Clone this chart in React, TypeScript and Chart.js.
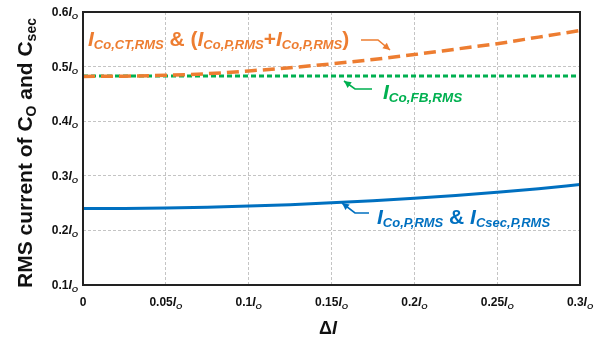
import React, { useEffect, useRef } from "react";
import { Chart, registerables } from "chart.js";

Chart.register(...registerables);

// ---- data ----
const deltaI = [0, 0.025, 0.05, 0.075, 0.1, 0.125, 0.15, 0.175, 0.2, 0.225, 0.25, 0.275, 0.3];
const iCoCtRms = [0.482, 0.4825, 0.484, 0.487, 0.492, 0.498, 0.505, 0.513, 0.522, 0.532, 0.542, 0.554, 0.566];
const iCoFbRms = [0.483, 0.483, 0.483, 0.483, 0.483, 0.483, 0.483, 0.483, 0.483, 0.483, 0.483, 0.483, 0.483];
const iCoPRms = [0.24, 0.2403, 0.2412, 0.2425, 0.2445, 0.247, 0.2505, 0.2545, 0.259, 0.264, 0.27, 0.2765, 0.284];
const xTickValues = [0, 0.05, 0.1, 0.15, 0.2, 0.25, 0.3];
const xTickNumbers = ["0", "0.05", "0.1", "0.15", "0.2", "0.25", "0.3"];
const yTickValues = [0.1, 0.2, 0.3, 0.4, 0.5, 0.6];
const yTickNumbers = ["0.1", "0.2", "0.3", "0.4", "0.5", "0.6"];

const ORANGE = "#ED7D31";
const GREEN = "#00B050";
const BLUE = "#0070C0";
const FAM = '"Liberation Sans", Arial, sans-serif';

type Seg = { t: string; f: string; dy?: number };

const B = (s: number) => `bold ${s}px ${FAM}`;
const BI = (s: number) => `italic bold ${s}px ${FAM}`;

function segWidth(ctx: CanvasRenderingContext2D, segs: Seg[]) {
  let w = 0;
  for (const s of segs) {
    ctx.font = s.f;
    w += ctx.measureText(s.t).width;
  }
  return w;
}

function drawRich(
  ctx: CanvasRenderingContext2D,
  x: number,
  y: number,
  segs: Seg[],
  align: "left" | "center" | "right",
  color: string
) {
  const w = segWidth(ctx, segs);
  let cx = align === "left" ? x : align === "center" ? x - w / 2 : x - w;
  ctx.fillStyle = color;
  ctx.textAlign = "left";
  ctx.textBaseline = "alphabetic";
  for (const s of segs) {
    ctx.font = s.f;
    ctx.fillText(s.t, cx, y + (s.dy || 0));
    cx += ctx.measureText(s.t).width;
  }
}

function arrow(ctx: CanvasRenderingContext2D, pts: number[][], color: string) {
  ctx.save();
  ctx.strokeStyle = color;
  ctx.fillStyle = color;
  ctx.lineWidth = 1.6;
  ctx.setLineDash([]);
  ctx.beginPath();
  ctx.moveTo(pts[0][0], pts[0][1]);
  for (let i = 1; i < pts.length; i++) ctx.lineTo(pts[i][0], pts[i][1]);
  ctx.stroke();
  const [x1, y1] = pts[pts.length - 2];
  const [x2, y2] = pts[pts.length - 1];
  const a = Math.atan2(y2 - y1, x2 - x1);
  const L = 7, W = 3.5;
  ctx.beginPath();
  ctx.moveTo(x2, y2);
  ctx.lineTo(x2 - L * Math.cos(a) + W * Math.sin(a), y2 - L * Math.sin(a) - W * Math.cos(a));
  ctx.lineTo(x2 - L * Math.cos(a) - W * Math.sin(a), y2 - L * Math.sin(a) + W * Math.cos(a));
  ctx.closePath();
  ctx.fill();
  ctx.restore();
}

const decorPlugin = {
  id: "decor",
  beforeDraw(chart: any) {
    const ctx = chart.ctx;
    ctx.save();
    ctx.fillStyle = "#fff";
    ctx.fillRect(0, 0, chart.width, chart.height);
    ctx.restore();
  },
  afterDraw(chart: any) {
    const ctx: CanvasRenderingContext2D = chart.ctx;
    const { left, right, top, bottom } = chart.chartArea;
    const xs = chart.scales.x;
    const ys = chart.scales.y;
    ctx.save();
    // frame
    ctx.strokeStyle = "#222";
    ctx.lineWidth = 2;
    ctx.setLineDash([]);
    ctx.strokeRect(left, top, right - left, bottom - top);

    // y tick labels
    yTickValues.forEach((v, i) => {
      const py = ys.getPixelForValue(v);
      drawRich(
        ctx,
        left - 5,
        py + 4,
        [
          { t: yTickNumbers[i], f: B(12) },
          { t: "I", f: BI(12) },
          { t: "O", f: BI(8), dy: 3 },
        ],
        "right",
        "#111"
      );
    });
    // x tick labels
    xTickValues.forEach((v, i) => {
      const px = xs.getPixelForValue(v);
      const segs: Seg[] =
        i === 0
          ? [{ t: xTickNumbers[i], f: B(12) }]
          : [
              { t: xTickNumbers[i], f: B(12) },
              { t: "I", f: BI(12) },
              { t: "O", f: BI(8), dy: 3 },
            ];
      drawRich(ctx, px, bottom + 21, segs, "center", "#111");
    });

    // x title
    drawRich(ctx, 328, 334, [{ t: "Δ", f: B(18) }, { t: "I", f: BI(18) }], "center", "#111");

    // y title (rotated)
    ctx.save();
    ctx.translate(32, 153);
    ctx.rotate(-Math.PI / 2);
    drawRich(
      ctx,
      0,
      0,
      [
        { t: "RMS current of C", f: B(21) },
        { t: "O", f: B(14), dy: 4 },
        { t: " and C", f: B(21) },
        { t: "sec", f: B(14), dy: 4 },
      ],
      "center",
      "#111"
    );
    ctx.restore();

    // orange annotation
    drawRich(
      ctx,
      88,
      46,
      [
        { t: "I", f: BI(21) },
        { t: "Co,CT,RMS", f: BI(13), dy: 3 },
        { t: " & (", f: B(21) },
        { t: "I", f: BI(21) },
        { t: "Co,P,RMS", f: BI(13), dy: 3 },
        { t: "+", f: B(21) },
        { t: "I", f: BI(21) },
        { t: "Co,P,RMS", f: BI(13), dy: 3 },
        { t: ")", f: B(21) },
      ],
      "left",
      ORANGE
    );
    arrow(ctx, [[361, 40], [378, 40], [390, 50]], ORANGE);

    // green annotation
    drawRich(
      ctx,
      383,
      99,
      [
        { t: "I", f: BI(21) },
        { t: "Co,FB,RMS", f: BI(13.5), dy: 3 },
      ],
      "left",
      GREEN
    );
    arrow(ctx, [[372, 89], [355, 89], [344, 81]], GREEN);

    // blue annotation
    drawRich(
      ctx,
      377,
      224,
      [
        { t: "I", f: BI(21) },
        { t: "Co,P,RMS", f: BI(13), dy: 3 },
        { t: " & ", f: B(21) },
        { t: "I", f: BI(21) },
        { t: "Csec,P,RMS", f: BI(13), dy: 3 },
      ],
      "left",
      BLUE
    );
    arrow(ctx, [[369, 213], [355, 213], [342, 203]], BLUE);

    ctx.restore();
  },
};

export default function App() {
  const ref = useRef<HTMLCanvasElement | null>(null);
  useEffect(() => {
    if (!ref.current) return;
    const pts = (ys: number[]) => deltaI.map((x, i) => ({ x, y: ys[i] }));
    const chart = new Chart(ref.current, {
      type: "line",
      data: {
        datasets: [
          {
            label: "ICo,FB,RMS",
            data: pts(iCoFbRms),
            borderColor: GREEN,
            borderWidth: 3,
            borderDash: [5, 3],
            pointRadius: 0,
            fill: false,
            order: 3,
          },
          {
            label: "ICo,CT,RMS",
            data: pts(iCoCtRms),
            borderColor: ORANGE,
            borderWidth: 3.5,
            borderDash: [12, 6],
            pointRadius: 0,
            fill: false,
            cubicInterpolationMode: "monotone",
            order: 2,
          },
          {
            label: "ICo,P,RMS",
            data: pts(iCoPRms),
            borderColor: BLUE,
            borderWidth: 3,
            pointRadius: 0,
            fill: false,
            cubicInterpolationMode: "monotone",
            order: 1,
          },
        ],
      },
      options: {
        responsive: false,
        animation: false,
        events: [],
        layout: { padding: { left: 83, right: 28, top: 12, bottom: 59 } },
        plugins: { legend: { display: false }, tooltip: { enabled: false } },
        scales: {
          x: {
            type: "linear",
            min: 0,
            max: 0.3,
            ticks: { display: false, stepSize: 0.05 },
            afterBuildTicks: (s: any) => {
              s.ticks = xTickValues.map((v) => ({ value: v }));
            },
            grid: { color: "#c4c4c4", lineWidth: 1, drawTicks: false },
            border: { display: false, dash: [3, 2] },
          },
          y: {
            type: "linear",
            min: 0.1,
            max: 0.6,
            ticks: { display: false, stepSize: 0.1 },
            afterBuildTicks: (s: any) => {
              s.ticks = yTickValues.map((v) => ({ value: v }));
            },
            grid: { color: "#c4c4c4", lineWidth: 1, drawTicks: false },
            border: { display: false, dash: [3, 2] },
          },
        },
      },
      plugins: [decorPlugin],
    });
    return () => chart.destroy();
  }, []);
  return (
    <div style={{ position: "fixed", left: 0, top: 0, width: 608, height: 344, background: "#fff" }}>
      <canvas ref={ref} width={608} height={344} />
    </div>
  );
}
